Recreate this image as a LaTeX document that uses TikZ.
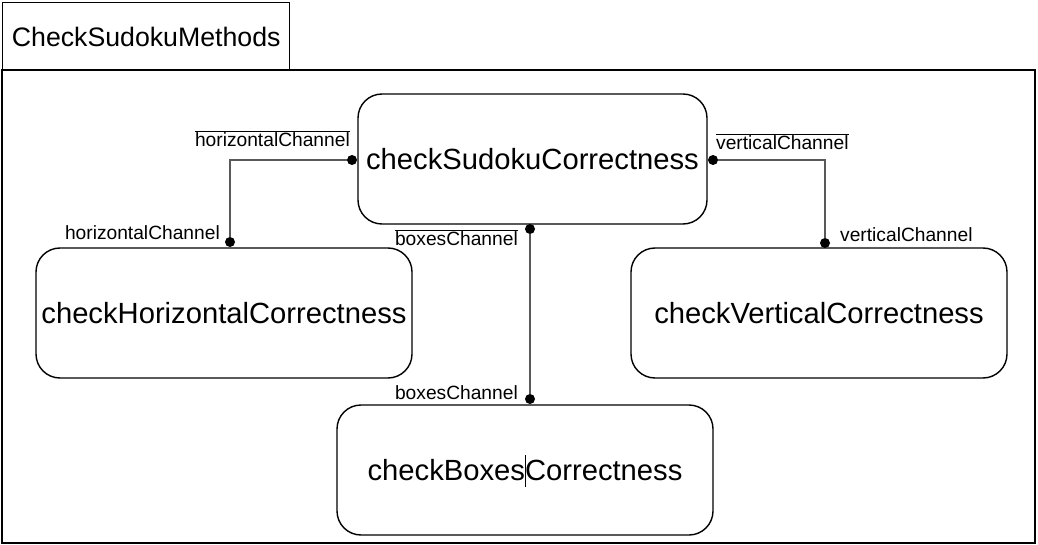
\documentclass[tikz,border=0pt]{standalone}
\usepackage{fontspec}
\setmainfont{Liberation Sans}
\begin{document}
\begin{tikzpicture}[x=1pt,y=-1pt,
  comp/.style={draw, line width=1.4pt, rounded corners=24pt, minimum width=376pt, minimum height=130pt, inner sep=0pt, font=\fontsize{29.2}{33}\selectfont},
  frame/.style={draw, line width=1.4pt},
  conn/.style={draw=black!65, line width=1.3pt},
  port/.style={circle, fill=black, inner sep=0pt, minimum size=10pt},
  lbl/.style={inner sep=0pt, font=\fontsize{19.2}{22}\selectfont}]
\useasboundingbox (0,0) rectangle (1038,545);
% frame
\draw[frame] (2,70) rectangle (1035,543);
\node[frame, minimum width=287pt, minimum height=68pt, inner sep=0pt, anchor=north west, font=\fontsize{26.7}{30}\selectfont] (title) at (2,2) {CheckSudokuMethods};
% components
\node[comp, minimum width=349pt] (top) at (532.5,159) {checkSudokuCorrectness};
\node[comp] (hor) at (224,313) {checkHorizontalCorrectness};
\node[comp] (ver) at (819,313) {checkVerticalCorrectness};
\node[comp] (box) at (525,470) {checkBoxesCorrectness};
\draw[line width=0.8pt] (525,455) -- (525,487);
% ports
\node[port] (ph1) at (352,160) {};
\node[port] (ph2) at (230,242) {};
\node[port] (pv1) at (713,160) {};
\node[port] (pv2) at (825,243) {};
\node[port] (pb1) at (530,229) {};
\node[port] (pb2) at (530,399) {};
% connectors
\draw[conn] (ph1) -| (ph2);
\draw[conn] (pv1) -| (pv2);
\draw[conn] (pb1) -- (pb2);
% labels
\node[lbl, anchor=base east] (lh1) at (350,147) {$\overline{\mbox{horizontalChannel}}$};
\node[lbl, anchor=base east] (lh2) at (220,240) {horizontalChannel};
\node[lbl, anchor=base west] (lv1) at (716,150) {$\overline{\mbox{verticalChannel}}$};
\node[lbl, anchor=base west] (lv2) at (840,242) {verticalChannel};
\node[lbl, anchor=base east] (lb1) at (518,246) {$\overline{\mbox{boxesChannel}}$};
\node[lbl, anchor=base east] (lb2) at (518,399) {boxesChannel};
\end{tikzpicture}
\end{document}
